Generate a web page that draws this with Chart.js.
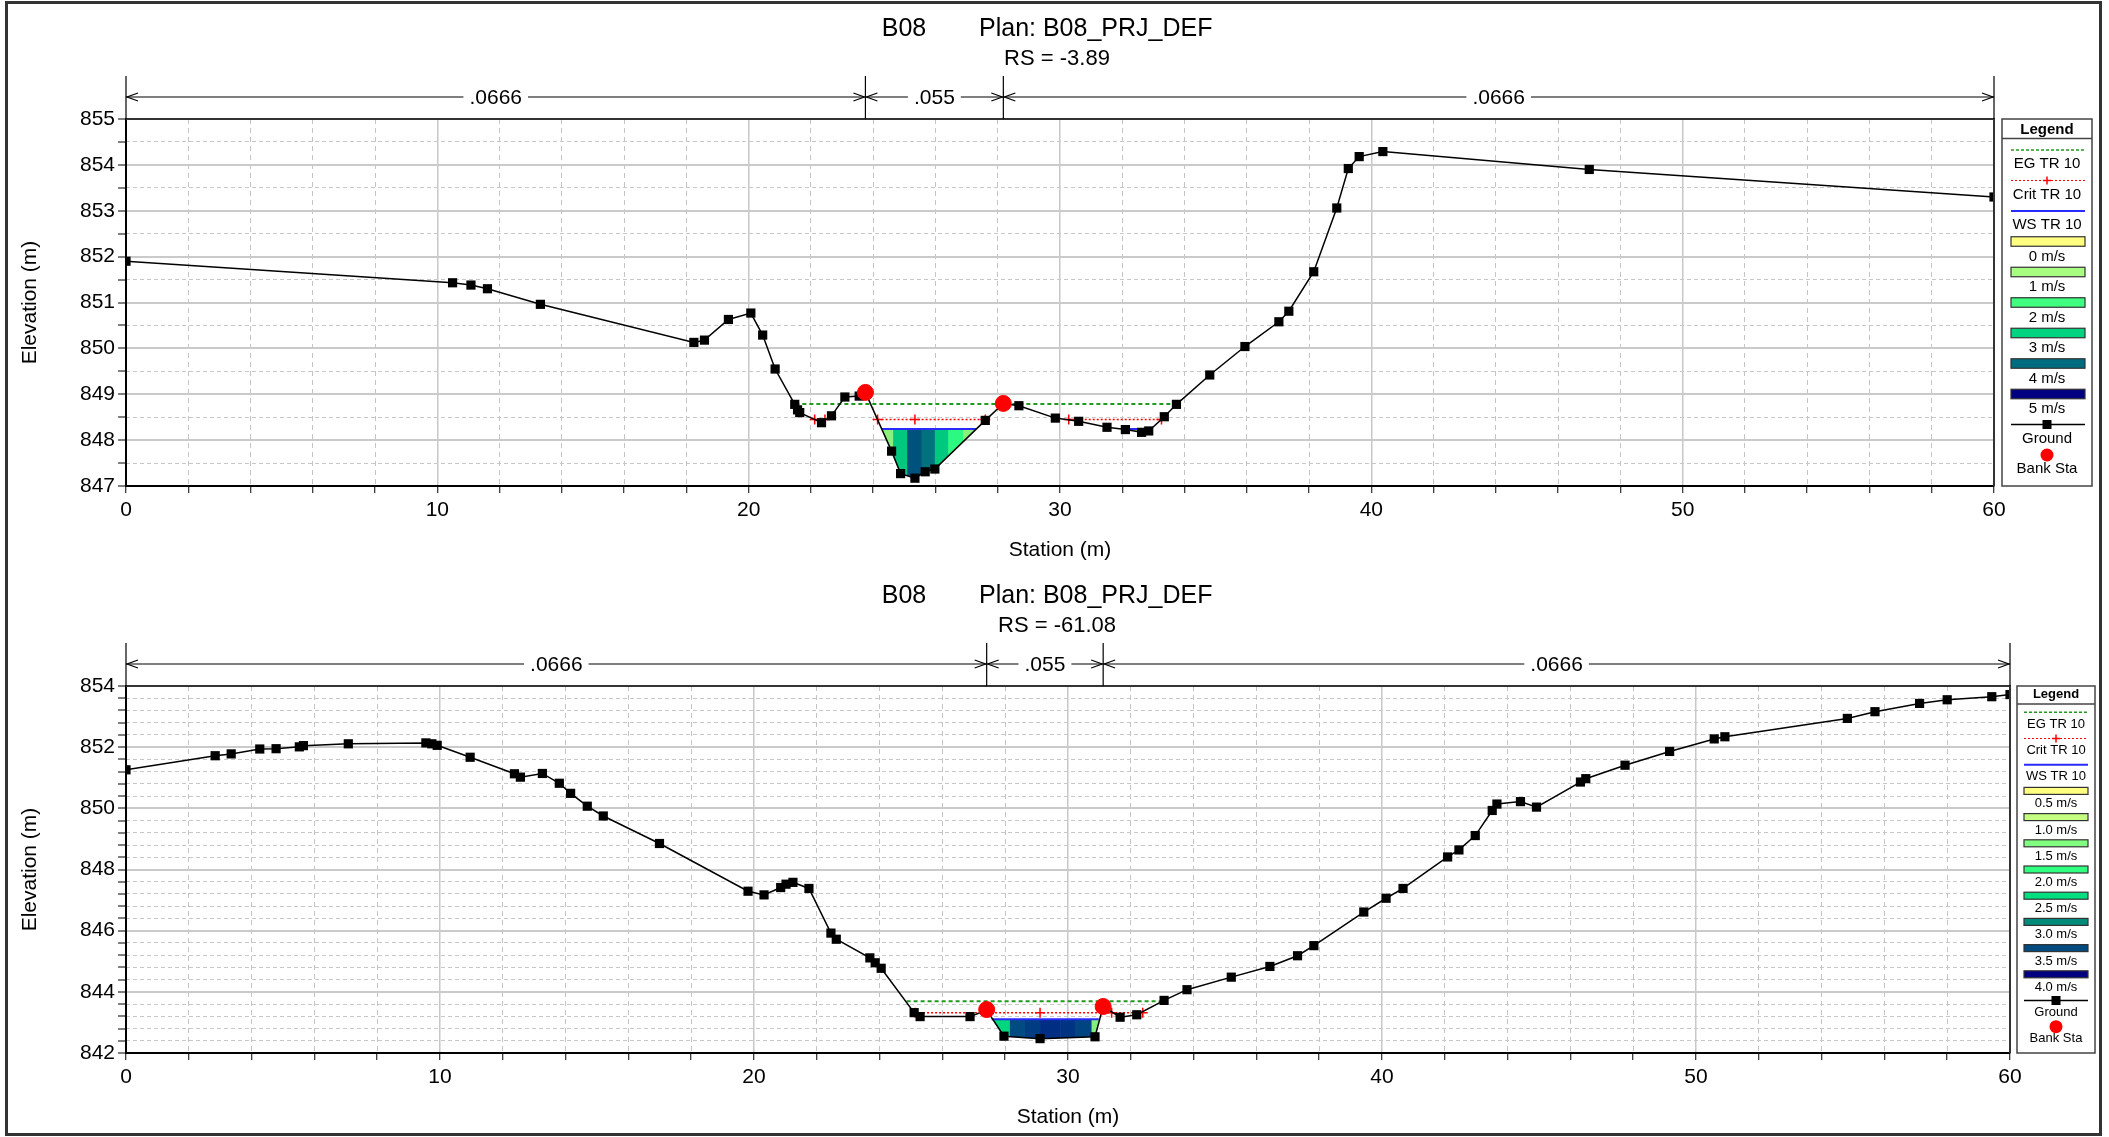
<!DOCTYPE html>
<html>
<head>
<meta charset="utf-8">
<script src="https://cdn.jsdelivr.net/npm/chart.js@4.4.1/dist/chart.umd.min.js"></script>
<style>
  html, body { margin: 0; padding: 0; background: #fff; }
  #wrap { position: relative; width: 2109px; height: 1137px; overflow: hidden; background: #fff; }
  #wrap canvas { position: absolute; left: 0; }
  #frame { position: absolute; left: 5px; top: 1px; width: 2091px; height: 1129px; border: 3px solid #333; pointer-events: none; }
</style>
</head>
<body>
<div id="wrap">
  <canvas id="top" width="2109" height="570" style="top:0"></canvas>
  <canvas id="bottom" width="2109" height="570" style="top:567px"></canvas>
  <div id="frame"></div>
</div>
<script>
const FONT = '"Liberation Sans", Arial, Helvetica, sans-serif';

const reachName = 'B08';
const planName = 'Plan: B08_PRJ_DEF';

// ---- RS = -3.89 ----
const rs1 = 'RS = -3.89';
const groundSta1 = [0, 10.49, 11.08, 11.61, 13.31, 18.24, 18.58, 19.35, 20.07, 20.45,
  20.85, 21.48, 21.57, 21.64, 22.34, 22.66, 23.09, 23.55, 23.75, 24.59,
  24.88, 25.34, 25.67, 25.98, 27.60, 28.18, 28.68, 29.85, 30.60, 31.51,
  32.10, 32.62, 32.85, 33.35, 33.74, 34.81, 35.94, 37.03, 37.35, 38.15,
  38.89, 39.26, 39.61, 40.37, 47.00, 60.00];
const groundElev1 = [851.90, 851.43, 851.38, 851.30, 850.96, 850.13, 850.18, 850.63, 850.77, 850.29,
  849.55, 848.78, 848.66, 848.60, 848.38, 848.53, 848.94, 848.96, 849.04, 847.76,
  847.27, 847.17, 847.31, 847.37, 848.43, 848.80, 848.75, 848.48, 848.41, 848.28,
  848.23, 848.17, 848.20, 848.51, 848.78, 849.42, 850.04, 850.58, 850.81, 851.67,
  853.06, 853.92, 854.18, 854.29, 853.90, 853.30];
const bankSta1 = [23.75, 28.18];
const bankElev1 = [849.04, 848.80];
const wsLevel1 = 848.24;
const wsSta1 = [24.28, 27.31, 29.60, 31.97, 32.94];
const wsElev1 = [848.24, 848.24, null, 848.24, 848.24];
const critSta1 = [22.12, 22.45, 23.30, 24.14, 25.34, 27.60, 29.00, 30.28, 33.26];
const critElev1 = [848.45, 848.45, null, 848.45, 848.45, 848.45, null, 848.45, 848.45];
const egSta1 = [21.50, 33.74];
const egElev1 = [848.79, 848.79];
const nBounds1 = [0, 23.75, 28.18, 60];
const nValues1 = ['.0666', '.055', '.0666'];
const velFrom1 = [24.00, 24.64, 25.09, 25.55, 25.98, 26.41, 26.89, 31.90];
const velTo1 = [24.64, 25.09, 25.55, 25.98, 26.41, 26.89, 27.70, 33.00];
const velFill1 = ['#8cf07c', '#00c87e', '#00527e', '#00727e', '#00c87e', '#2cfa80', '#8cf07c', '#b4f07c'];
const velLegend1 = ['0 m/s', '1 m/s', '2 m/s', '3 m/s', '4 m/s', '5 m/s'];
const velLegendFill1 = ['#ffff80', '#a8ff80', '#40ff80', '#00d480', '#006c80', '#000080'];

// ---- RS = -61.08 ----
const rs2 = 'RS = -61.08';
const groundSta2 = [0, 2.84, 3.35, 4.26, 4.78, 5.52, 5.65, 7.08, 9.55, 9.74,
  9.91, 10.96, 12.37, 12.56, 13.26, 13.80, 14.16, 14.69, 15.20, 16.99,
  19.81, 20.32, 20.85, 21.02, 21.24, 21.75, 22.45, 22.62, 23.69, 23.86,
  24.05, 25.10, 25.29, 26.88, 27.41, 27.96, 29.11, 30.86, 31.12, 31.66,
  32.19, 33.06, 33.79, 35.20, 36.43, 37.31, 37.83, 39.42, 40.13, 40.67,
  42.09, 42.45, 42.97, 43.51, 43.66, 44.41, 44.92, 46.32, 46.49, 47.74,
  49.16, 50.58, 50.92, 54.82, 55.70, 57.12, 58.00, 59.42, 60.00];
const groundElev2 = [851.26, 851.72, 851.78, 851.94, 851.95, 852.01, 852.05, 852.11, 852.14, 852.11,
  852.06, 851.67, 851.13, 851.02, 851.14, 850.82, 850.49, 850.07, 849.75, 848.85,
  847.29, 847.17, 847.41, 847.52, 847.58, 847.38, 845.92, 845.72, 845.11, 844.95,
  844.77, 843.32, 843.19, 843.19, 843.40, 842.55, 842.47, 842.53, 843.52, 843.17,
  843.25, 843.72, 844.07, 844.48, 844.83, 845.18, 845.51, 846.61, 847.06, 847.38,
  848.41, 848.64, 849.11, 849.93, 850.14, 850.22, 850.04, 850.86, 850.97, 851.41,
  851.86, 852.27, 852.34, 852.94, 853.16, 853.43, 853.55, 853.65, 853.72];
const bankSta2 = [27.41, 31.12];
const bankElev2 = [843.42, 843.52];
const wsLevel2 = 843.10;
const wsSta2 = [27.57, 30.98];
const wsElev2 = [843.10, 843.10];
const critSta2 = [25.13, 29.11, 31.39, 32.38];
const critElev2 = [843.32, 843.32, 843.32, 843.32];
const egSta2 = [24.86, 33.04];
const egElev2 = [843.69, 843.69];
const nBounds2 = [0, 27.41, 31.12, 60];
const nValues2 = ['.0666', '.055', '.0666'];
const velFrom2 = [27.30, 28.15, 28.63, 29.11, 29.75, 30.22, 30.75];
const velTo2 = [28.15, 28.63, 29.11, 29.75, 30.22, 30.75, 31.20];
const velFill2 = ['#00d67e', '#004c82', '#003c82', '#002e82', '#003482', '#004482', '#84f07c'];
const velLegend2 = ['0.5 m/s', '1.0 m/s', '1.5 m/s', '2.0 m/s', '2.5 m/s', '3.0 m/s', '3.5 m/s', '4.0 m/s'];
const velLegendFill2 = ['#ffff80', '#c4ff80', '#80ff80', '#30ff80', '#00e080', '#008a78', '#004a80', '#000080'];

const EG_COLOR = '#1f9a1f';
const CRIT_COLOR = '#ff0000';
const WS_COLOR = '#2a2aff';

// per-canvas settings for the drawing plugin (kept out of Chart.js option proxies)
const sections = {};

function pts(xs, ys) {
  return xs.map((v, i) => ({ x: v, y: ys[i] }));
}

function line(ctx, x0, y0, x1, y1) {
  ctx.beginPath();
  ctx.moveTo(x0, y0);
  ctx.lineTo(x1, y1);
  ctx.stroke();
}

function arrowHead(ctx, tx, ty, dir) {
  ctx.beginPath();
  ctx.moveTo(tx + dir * 11, ty - 4);
  ctx.lineTo(tx, ty);
  ctx.lineTo(tx + dir * 11, ty + 4);
  ctx.stroke();
}

function drawManning(ctx, x, a, bounds, values) {
  const yb = 97, yt = 76;
  ctx.strokeStyle = '#000';
  ctx.lineWidth = 1.2;
  ctx.fillStyle = '#000';
  ctx.font = '21px ' + FONT;
  ctx.textAlign = 'center';
  ctx.textBaseline = 'middle';
  const px = bounds.map(b => x.getPixelForValue(b));
  px.forEach(p => line(ctx, p, yt, p, a.top));
  values.forEach((t, i) => {
    const x0 = px[i], x1 = px[i + 1];
    const mid = (x0 + x1) / 2;
    const half = ctx.measureText(t).width / 2 + 6;
    line(ctx, x0, yb, mid - half, yb);
    line(ctx, mid + half, yb, x1, yb);
    arrowHead(ctx, x0 + 1, yb, 1);
    arrowHead(ctx, x1 - 1, yb, -1);
    ctx.fillText(t, mid, yb + 1);
  });
}

function drawLegend(ctx, L, velLabels, velColors) {
  const cx = (L.left + L.right) / 2;
  ctx.fillStyle = '#fff';
  ctx.fillRect(L.left, L.top, L.right - L.left, L.bottom - L.top);
  ctx.strokeStyle = '#444';
  ctx.lineWidth = 1.5;
  ctx.strokeRect(L.left, L.top, L.right - L.left, L.bottom - L.top);
  ctx.fillStyle = '#000';
  ctx.textAlign = 'center';
  ctx.textBaseline = 'middle';
  ctx.font = 'bold ' + L.size + 'px ' + FONT;
  ctx.fillText('Legend', cx, L.headY);
  line(ctx, L.left, L.sepY, L.right, L.sepY);

  const sx0 = L.swL, sx1 = L.swR;
  let slot = 0;
  const label = (t, yy) => {
    ctx.fillStyle = '#000';
    ctx.font = L.size + 'px ' + FONT;
    ctx.fillText(t, cx, yy + L.textDy);
  };
  const ys = () => L.slot0 + L.step * slot;

  // EG
  let yy = ys();
  ctx.strokeStyle = EG_COLOR; ctx.lineWidth = 1.5; ctx.setLineDash([3, 2]);
  line(ctx, sx0, yy, sx1, yy);
  ctx.setLineDash([]);
  label('EG TR 10', yy); slot++;
  // Crit
  yy = ys();
  ctx.strokeStyle = CRIT_COLOR; ctx.lineWidth = 1; ctx.setLineDash([2, 2]);
  line(ctx, sx0, yy, sx1, yy);
  ctx.setLineDash([]); ctx.lineWidth = 1.5;
  line(ctx, cx - 4, yy, cx + 4, yy); line(ctx, cx, yy - 4, cx, yy + 4);
  label('Crit TR 10', yy); slot++;
  // WS
  yy = ys();
  ctx.strokeStyle = WS_COLOR; ctx.lineWidth = 2;
  line(ctx, sx0, yy, sx1, yy);
  label('WS TR 10', yy); slot++;
  // velocity swatches
  velLabels.forEach((t, i) => {
    yy = ys();
    ctx.fillStyle = velColors[i];
    ctx.fillRect(sx0, yy - L.swH / 2, sx1 - sx0, L.swH);
    ctx.strokeStyle = '#333'; ctx.lineWidth = 1.2;
    ctx.strokeRect(sx0, yy - L.swH / 2, sx1 - sx0, L.swH);
    label(t, yy + 1); slot++;
  });
  // Ground
  yy = ys();
  ctx.strokeStyle = '#000'; ctx.lineWidth = 1.3;
  line(ctx, sx0, yy, sx1, yy);
  ctx.fillStyle = '#000';
  ctx.fillRect(cx - 4.5, yy - 4.5, 9, 9);
  label('Ground', yy); slot++;
  // Bank
  yy = ys();
  ctx.fillStyle = '#ff0000';
  ctx.beginPath(); ctx.arc(cx, yy, 6.5, 0, Math.PI * 2); ctx.fill();
  label('Bank Sta', yy);
}

const xsecPlugin = {
  id: 'xsec',
  beforeDatasetsDraw(chart) {
    // velocity stripes, kept between the water surface and the ground
    const o = sections[chart.canvas.id];
    const { ctx, chartArea: a, scales: { x, y } } = chart;
    ctx.save();
    ctx.beginPath();
    ctx.rect(a.left, a.top, a.width, a.height);
    ctx.clip();
    ctx.beginPath();
    o.groundSta.forEach((s, i) => {
      const px = x.getPixelForValue(s);
      const py = y.getPixelForValue(o.groundElev[i]);
      if (i === 0) ctx.moveTo(px, py); else ctx.lineTo(px, py);
    });
    ctx.lineTo(a.right, a.top);
    ctx.lineTo(a.left, a.top);
    ctx.closePath();
    ctx.clip();
    const wy = y.getPixelForValue(o.wsLevel);
    o.velFrom.forEach((s, i) => {
      const x0 = x.getPixelForValue(s);
      const x1 = x.getPixelForValue(o.velTo[i]);
      ctx.fillStyle = o.velFill[i];
      ctx.fillRect(x0, wy, x1 - x0 + 0.6, a.bottom - wy);
    });
    ctx.restore();
  },
  afterDraw(chart) {
    const o = sections[chart.canvas.id];
    const { ctx, chartArea: a, scales: { x } } = chart;
    ctx.save();
    ctx.strokeStyle = '#333';
    ctx.lineWidth = 2;
    ctx.beginPath();
    ctx.moveTo(a.left, a.top);
    ctx.lineTo(a.right, a.top);
    ctx.lineTo(a.right, a.bottom);
    ctx.stroke();

    ctx.fillStyle = '#000';
    ctx.textBaseline = 'middle';
    ctx.font = '25px ' + FONT;
    ctx.textAlign = 'center';
    ctx.fillText(reachName, 904, 29);
    ctx.textAlign = 'left';
    ctx.fillText(planName, 979, 29);
    ctx.textAlign = 'center';
    ctx.font = '22px ' + FONT;
    ctx.fillText(o.rs, 1057, 59);

    drawManning(ctx, x, a, o.nBounds, o.nValues);
    drawLegend(ctx, o.legend, o.velLegend, o.velLegendFill);
    ctx.restore();
  }
};

function isMultiple(v, m) {
  return Math.abs(v / m - Math.round(v / m)) < 1e-6;
}

function makeChart(id, d) {
  sections[id] = d;
  const tickFont = { family: FONT, size: 21 };
  const titleFont = { family: FONT, size: 21 };
  const clear = 'rgba(0,0,0,0)';
  return new Chart(document.getElementById(id), {
    type: 'scatter',
    data: {
      datasets: [
        {
          label: 'Bank Sta', data: pts(d.bankSta, d.bankElev), showLine: false,
          pointStyle: 'circle', pointRadius: 8, backgroundColor: '#ff0000', borderColor: '#ff0000', order: 0
        },
        {
          label: 'Ground', data: pts(d.groundSta, d.groundElev), showLine: true,
          borderColor: '#000', borderWidth: 1.5, pointStyle: 'rect', pointRadius: 6.5,
          pointBackgroundColor: '#000', pointBorderColor: '#000', pointBorderWidth: 0, order: 1
        },
        {
          label: 'WS TR 10', data: pts(d.wsSta, d.wsElev), showLine: true, spanGaps: false,
          borderColor: WS_COLOR, borderWidth: 2, pointRadius: 0, order: 2
        },
        {
          label: 'Crit TR 10', data: pts(d.critSta, d.critElev), showLine: true, spanGaps: false,
          borderColor: CRIT_COLOR, borderWidth: 1.5, borderDash: [2, 2], pointStyle: 'cross',
          pointRadius: 5, pointBorderColor: CRIT_COLOR, pointBorderWidth: 1.5, order: 3
        },
        {
          label: 'EG TR 10', data: pts(d.egSta, d.egElev), showLine: true,
          borderColor: EG_COLOR, borderWidth: 2, borderDash: [4, 3], pointRadius: 0, order: 4
        }
      ]
    },
    options: {
      responsive: false,
      animation: false,
      events: [],
      layout: { padding: { left: 0, top: 119, right: d.padRight, bottom: 0 } },
      plugins: {
        legend: { display: false },
        tooltip: { enabled: false }
      },
      scales: {
        x: {
          type: 'linear', position: 'bottom', min: 0, max: 60,
          afterFit: s => { s.height = 84; },
          ticks: {
            stepSize: 2, autoSkip: false, maxRotation: 0, padding: 5, color: '#000', font: tickFont,
            callback: v => (isMultiple(v, 10) ? String(Math.round(v)) : '')
          },
          grid: {
            color: c => (c.tick && isMultiple(c.tick.value, 10) ? '#c8c8c8' : clear),
            lineWidth: 1.5, tickColor: '#000', tickLength: 7, tickWidth: 1
          },
          border: { color: '#000', width: 2 },
          title: { display: true, text: 'Station (m)', color: '#000', font: titleFont, padding: { top: 0, bottom: 7 } }
        },
        x2: {
          type: 'linear', position: 'bottom', min: 0, max: 60,
          afterFit: s => { s.height = 0; },
          ticks: { display: false, stepSize: 2, autoSkip: false },
          grid: {
            color: c => (c.tick && isMultiple(c.tick.value, 10) ? clear : '#c4c4c4'),
            lineWidth: 1, drawTicks: false, tickLength: 0
          },
          border: { display: false, dash: [5, 4] }
        },
        y: {
          type: 'linear', position: 'left', min: d.yMin, max: d.yMax,
          afterFit: s => { s.width = 126; },
          ticks: {
            stepSize: d.yMinor, autoSkip: false, padding: 3, color: '#000', font: tickFont,
            callback: v => (isMultiple(v, d.yMajor) ? String(Math.round(v)) : '')
          },
          grid: {
            color: c => (c.tick && isMultiple(c.tick.value, d.yMajor) ? '#cacaca' : clear),
            lineWidth: 2, tickColor: '#000', tickLength: 8, tickWidth: 1
          },
          border: { color: '#000', width: 2 },
          title: { display: true, text: 'Elevation (m)', color: '#000', font: titleFont, padding: { top: 18, bottom: 0 } }
        },
        y2: {
          type: 'linear', position: 'left', min: d.yMin, max: d.yMax,
          afterFit: s => { s.width = 0; },
          ticks: { display: false, stepSize: d.yMinor, autoSkip: false },
          grid: {
            color: c => (c.tick && isMultiple(c.tick.value, d.yMajor) ? clear : '#c8c8c8'),
            lineWidth: 1, drawTicks: false, tickLength: 0
          },
          border: { display: false, dash: [4, 3] }
        }
      }
    },
    plugins: [xsecPlugin]
  });
}

makeChart('top', {
  rs: rs1, padRight: 115, yMin: 847, yMax: 855, yMinor: 0.5, yMajor: 1,
  groundSta: groundSta1, groundElev: groundElev1, bankSta: bankSta1, bankElev: bankElev1,
  wsSta: wsSta1, wsElev: wsElev1, wsLevel: wsLevel1, critSta: critSta1, critElev: critElev1,
  egSta: egSta1, egElev: egElev1, nBounds: nBounds1, nValues: nValues1,
  velFrom: velFrom1, velTo: velTo1, velFill: velFill1,
  velLegend: velLegend1, velLegendFill: velLegendFill1,
  legend: { left: 2002, right: 2092, top: 119, bottom: 486, headY: 129.5, sepY: 138.5,
    slot0: 150, step: 30.5, textDy: 14, size: 15, swH: 9.5, swL: 2011, swR: 2085 }
});

makeChart('bottom', {
  rs: rs2, padRight: 99, yMin: 842, yMax: 854, yMinor: 0.4, yMajor: 2,
  groundSta: groundSta2, groundElev: groundElev2, bankSta: bankSta2, bankElev: bankElev2,
  wsSta: wsSta2, wsElev: wsElev2, wsLevel: wsLevel2, critSta: critSta2, critElev: critElev2,
  egSta: egSta2, egElev: egElev2, nBounds: nBounds2, nValues: nValues2,
  velFrom: velFrom2, velTo: velTo2, velFill: velFill2,
  velLegend: velLegend2, velLegendFill: velLegendFill2,
  legend: { left: 2017, right: 2095, top: 119, bottom: 486, headY: 127, sepY: 137,
    slot0: 145.3, step: 26.2, textDy: 12, size: 13, swH: 7, swL: 2024, swR: 2088 }
});
</script>
</body>
</html>
